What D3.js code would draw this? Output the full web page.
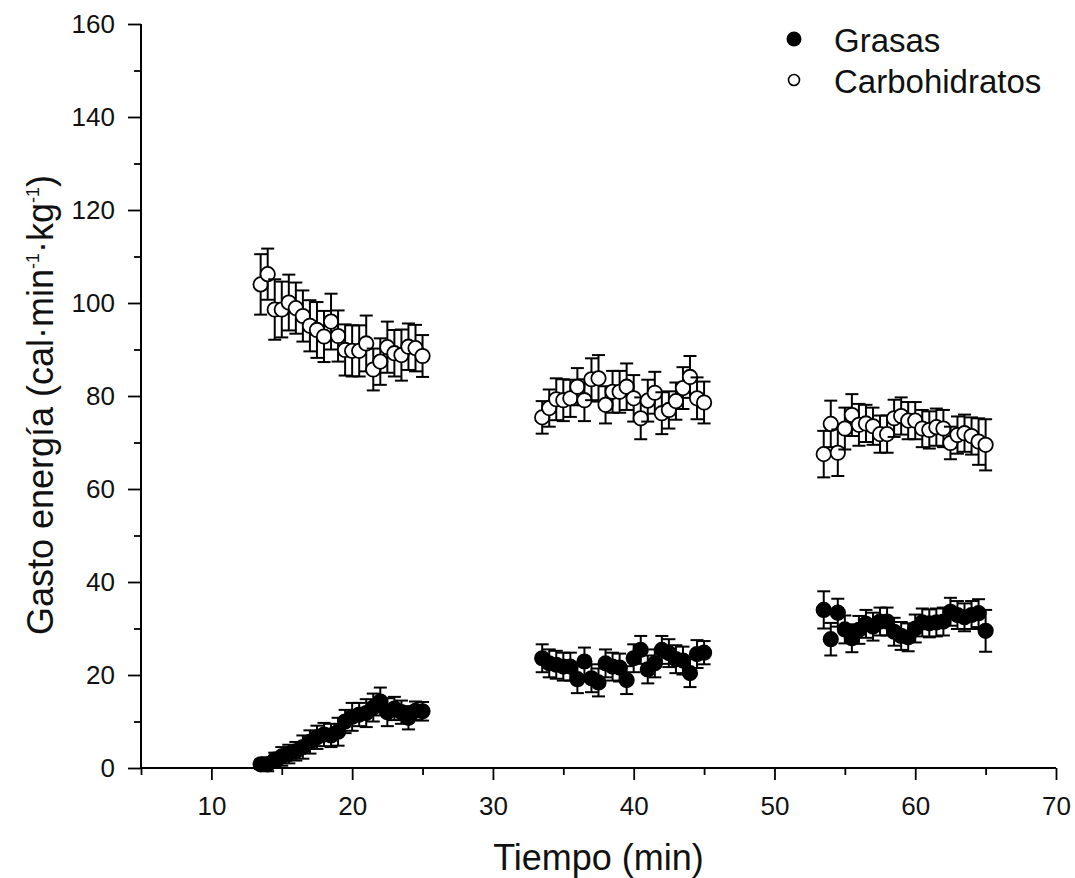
<!DOCTYPE html>
<html>
<head>
<meta charset="utf-8">
<script src="https://cdn.jsdelivr.net/npm/d3@7"></script>
<style>
  body { margin: 0; background: #fff; }
  svg { display: block; font-family: "Liberation Sans", Arial, sans-serif; }
</style>
</head>
<body>
<div id="chart"></div>
<script>
// time points (min)
const tiempo = [
  13.5, 14, 14.5, 15, 15.5, 16, 16.5, 17, 17.5, 18, 18.5, 19, 19.5, 20, 20.5, 21, 21.5, 22, 22.5, 23, 23.5, 24, 24.5, 25,
  33.5, 34, 34.5, 35, 35.5, 36, 36.5, 37, 37.5, 38, 38.5, 39, 39.5, 40, 40.5, 41, 41.5, 42, 42.5, 43, 43.5, 44, 44.5, 45,
  53.5, 54, 54.5, 55, 55.5, 56, 56.5, 57, 57.5, 58, 58.5, 59, 59.5, 60, 60.5, 61, 61.5, 62, 62.5, 63, 63.5, 64, 64.5, 65
];

const grasas = [
  0.8, 0.8, 1.8, 2.5, 3.0, 3.6, 4.5, 5.6, 6.6, 7.2, 7.0, 7.8, 10.0, 11.0, 11.5, 11.8, 13.0, 14.3, 12.0, 12.8, 12.0, 10.8, 12.3, 12.2,
  23.6, 22.5, 22.2, 21.8, 21.8, 19.1, 22.9, 19.3, 18.4, 22.5, 21.8, 21.6, 18.9, 23.6, 25.4, 21.2, 22.5, 25.4, 24.7, 23.4, 23.1, 20.4, 24.5, 24.8,
  34.0, 27.7, 33.4, 29.8, 27.9, 29.7, 31.0, 30.4, 31.5, 31.5, 29.3, 28.4, 28.1, 30.0, 31.3, 31.1, 31.3, 31.5, 33.6, 32.9, 32.4, 32.9, 33.3, 29.5
];
const grasasErr = [
  1.0, 1.5, 1.5, 2.0, 2.0, 2.0, 2.5, 2.5, 2.5, 2.5, 2.5, 3.0, 2.5, 3.0, 2.5, 3.0, 3.0, 3.0, 3.0, 2.5, 2.5, 2.5, 2.0, 2.0,
  3.0, 3.0, 3.0, 3.0, 3.0, 3.0, 3.0, 3.0, 3.0, 3.0, 3.0, 3.0, 3.0, 3.0, 3.0, 3.0, 3.0, 3.0, 3.0, 3.0, 3.0, 3.0, 3.0, 2.5,
  4.0, 3.5, 3.0, 3.0, 3.0, 3.0, 3.0, 3.0, 3.0, 3.0, 3.0, 3.0, 3.0, 3.0, 3.0, 3.0, 3.0, 3.0, 3.0, 3.0, 3.0, 3.0, 3.0, 4.5
];

const carbohidratos = [
  104.0, 106.2, 98.6, 98.6, 100.1, 98.9, 97.2, 95.1, 94.2, 92.8, 96.0, 92.9, 89.9, 89.7, 89.7, 91.3, 85.7, 87.4, 90.5, 89.2, 88.8, 90.6, 90.3, 88.6,
  75.4, 77.4, 79.3, 79.1, 79.5, 82.0, 79.1, 83.6, 83.8, 78.1, 80.9, 80.9, 82.0, 79.5, 75.2, 79.0, 80.7, 76.3, 77.0, 78.9, 81.7, 84.1, 79.5, 78.6,
  67.5, 74.0, 67.8, 73.0, 75.9, 73.8, 74.1, 73.5, 71.8, 71.8, 75.2, 75.7, 74.7, 74.7, 73.0, 72.7, 73.3, 73.0, 69.9, 71.6, 72.0, 71.4, 70.2, 69.5
];
const carbohidratosErr = [
  6.5, 5.5, 6.5, 6.0, 6.0, 5.5, 5.5, 5.5, 6.0, 5.5, 6.0, 5.5, 5.5, 5.5, 5.5, 6.0, 4.5, 5.0, 5.5, 5.0, 5.5, 5.0, 5.0, 4.5,
  3.5, 4.0, 4.5, 4.5, 4.0, 4.0, 4.5, 4.5, 5.0, 4.0, 4.5, 4.5, 5.0, 5.0, 4.5, 4.5, 4.5, 4.5, 4.0, 4.0, 4.5, 4.5, 4.5, 4.5,
  5.0, 5.0, 5.0, 4.5, 4.5, 4.5, 4.0, 4.0, 4.0, 4.0, 4.0, 4.0, 4.0, 4.0, 4.0, 4.0, 4.0, 4.0, 3.5, 4.0, 4.0, 4.0, 5.0, 5.5
];

const xTicks = [10, 20, 30, 40, 50, 60, 70];
const yTicks = [0, 20, 40, 60, 80, 100, 120, 140, 160];

const width = 1075, height = 878;
const svg = d3.select("#chart").append("svg")
  .attr("width", width).attr("height", height);

const x = d3.scaleLinear().domain([5, 70]).range([141, 1056]);
const y = d3.scaleLinear().domain([0, 160]).range([768, 24]);

// axes (major + minor ticks)
const xAxis = svg.append("g").attr("transform", `translate(0,${y(0)})`)
  .call(d3.axisBottom(x).tickValues(d3.range(5, 71, 5)).tickSize(12)
    .tickFormat(d => xTicks.includes(d) ? d : ""));
xAxis.selectAll(".tick line").attr("y2", d => xTicks.includes(d) ? 12 : 7);
xAxis.selectAll(".tick text").attr("y", 29).attr("dy", "0.71em");

const yAxis = svg.append("g").attr("transform", `translate(${x(5)},0)`)
  .call(d3.axisLeft(y).tickValues(d3.range(0, 161, 10)).tickSize(12)
    .tickFormat(d => yTicks.includes(d) ? d : ""));
yAxis.selectAll(".tick line").attr("x2", d => yTicks.includes(d) ? -13 : -7);
yAxis.selectAll(".tick text").attr("x", -26);

xAxis.select(".domain").attr("d", `M${x(5)},0H${x(70)}`);
yAxis.select(".domain").attr("d", `M0,${y(0)}V${y(160)}`);
svg.selectAll(".domain").attr("stroke", "#000").attr("stroke-width", 2);
svg.selectAll(".tick line").attr("stroke", "#000").attr("stroke-width", 1.8);
svg.selectAll(".tick text").attr("fill", "#111").style("font-size", "26px");

// axis titles
svg.append("text")
  .attr("x", x(37.5)).attr("y", 870)
  .attr("text-anchor", "middle")
  .style("font-size", "36px").attr("fill", "#111")
  .text("Tiempo (min)");

const yTitle = svg.append("text")
  .attr("transform", "translate(53,405) rotate(-90)")
  .attr("text-anchor", "middle")
  .style("font-size", "36px").attr("fill", "#111");
yTitle.append("tspan").text("Gasto energía (cal·min");
yTitle.append("tspan").attr("dy", -14).style("font-size", "18px").text("-1");
yTitle.append("tspan").attr("dy", 14).text("·kg");
yTitle.append("tspan").attr("dy", -14).style("font-size", "18px").text("-1");
yTitle.append("tspan").attr("dy", 14).text(")");

// series with error bars
function drawSeries(values, errs, fill) {
  const g = svg.append("g");
  const pts = g.selectAll("g.pt")
    .data(tiempo.map((t, i) => ({ t, v: values[i], e: errs[i] })))
    .join("g").attr("class", "pt");
  pts.append("line")
    .attr("x1", d => x(d.t)).attr("x2", d => x(d.t))
    .attr("y1", d => y(d.v - d.e)).attr("y2", d => y(d.v + d.e))
    .attr("stroke", "#000").attr("stroke-width", 2);
  [-1, 1].forEach(s => {
    pts.append("line")
      .attr("x1", d => x(d.t) - 6.5).attr("x2", d => x(d.t) + 6.5)
      .attr("y1", d => y(d.v + s * d.e)).attr("y2", d => y(d.v + s * d.e))
      .attr("stroke", "#000").attr("stroke-width", 2);
  });
  pts.append("circle")
    .attr("cx", d => x(d.t)).attr("cy", d => y(d.v)).attr("r", 7.2)
    .attr("fill", fill).attr("stroke", "#000").attr("stroke-width", 1.8);
}
drawSeries(carbohidratos, carbohidratosErr, "#fff");
drawSeries(grasas, grasasErr, "#000");

// legend
const legend = svg.append("g");
legend.append("circle").attr("cx", 794).attr("cy", 39).attr("r", 7.5).attr("fill", "#000");
legend.append("circle").attr("cx", 794).attr("cy", 80).attr("r", 5.5)
  .attr("fill", "#fff").attr("stroke", "#000").attr("stroke-width", 1.6);
legend.append("text").attr("x", 834).attr("y", 52).style("font-size", "33px").attr("fill", "#111").text("Grasas");
legend.append("text").attr("x", 834).attr("y", 93).style("font-size", "33px").attr("fill", "#111").text("Carbohidratos");
</script>
</body>
</html>
